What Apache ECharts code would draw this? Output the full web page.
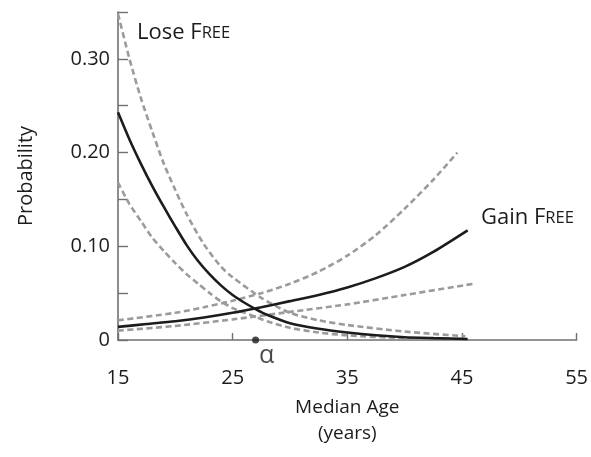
<!DOCTYPE html>
<html>
<head>
<meta charset="utf-8">
<script src="https://cdn.jsdelivr.net/npm/echarts@6/dist/echarts.min.js"></script>
<style>
  html, body { margin: 0; padding: 0; background: #ffffff; }
  #chart { width: 591px; height: 457px; }
</style>
</head>
<body>
<div id="chart"></div>
<script>
// Probability of losing / gaining the FREE state against median age (years)
// Solid curves are the estimates, dashed curves the bounds around them.

const xTicks = [15, 25, 35, 45, 55];
const yTicks = [0, 0.10, 0.20, 0.30];

// Lose FREE
const loseAges = [15, 16, 17, 18, 19, 20, 21, 22, 23, 24, 25, 26, 27, 28, 30, 32.5, 35, 37.5, 40, 42.5, 45.5];
const loseMid = [0.243, 0.214, 0.188, 0.164, 0.142, 0.121, 0.101, 0.084, 0.070, 0.058, 0.048, 0.040, 0.033, 0.027, 0.018, 0.012, 0.008, 0.005, 0.003, 0.002, 0.001];
const loseHighAges = [15, 16, 17, 18, 19, 20, 21, 22.5, 24, 25, 27.5, 30, 32.5, 35, 40, 45.3];
const loseHigh = [0.348, 0.300, 0.258, 0.222, 0.188, 0.160, 0.134, 0.102, 0.078, 0.067, 0.045, 0.029, 0.021, 0.016, 0.009, 0.004];
const loseLowAges = [15, 16, 17, 18, 19, 20, 21, 22, 23, 24, 25, 26.5, 28, 30, 32.5, 35, 40, 45];
const loseLow = [0.168, 0.145, 0.127, 0.109, 0.095, 0.082, 0.070, 0.060, 0.050, 0.041, 0.034, 0.027, 0.020, 0.013, 0.008, 0.005, 0.002, 0.001];

// Gain FREE
const gainAges = [15, 17.5, 20, 22.5, 25, 27.5, 30, 32.5, 35, 37.5, 40, 42.5, 45.5];
const gainMid = [0.014, 0.017, 0.020, 0.024, 0.029, 0.035, 0.0415, 0.048, 0.056, 0.066, 0.078, 0.094, 0.117];
const gainHighAges = [15, 20, 22.5, 25, 27.5, 30, 32.5, 35, 37.5, 40, 42.5, 44.6];
const gainHigh = [0.021, 0.029, 0.035, 0.042, 0.050, 0.060, 0.073, 0.090, 0.112, 0.140, 0.171, 0.200];
const gainLowAges = [15, 20, 25, 30, 35, 40, 46];
const gainLow = [0.010, 0.015, 0.022, 0.030, 0.038, 0.048, 0.060];

// Crossover age marked on the axis
const alphaAge = [27];

const FONT = '"Open Sans", "Noto Sans", sans-serif';
const AXIS_GRAY = '#707070';
const DASH_GRAY = '#9b9b9b';
const INK = '#1c1c1c';

const pairs = (xs, ys) => xs.map((x, i) => [x, ys[i]]);

function curve(name, xs, ys, dashed) {
  return {
    name: name,
    type: 'line',
    data: pairs(xs, ys),
    smooth: 0.25,
    symbol: 'none',
    silent: true,
    z: dashed ? 2 : 3,
    lineStyle: dashed
      ? { color: DASH_GRAY, width: 2.6, type: [6, 3.5], cap: 'butt' }
      : { color: INK, width: 2.6 }
  };
}

const chart = echarts.init(document.getElementById('chart'), null, { renderer: 'canvas' });

chart.setOption({
  animation: false,
  backgroundColor: '#ffffff',
  grid: { left: 118, right: 13, top: 12, bottom: 117 },
  xAxis: {
    type: 'value',
    min: xTicks[0],
    max: xTicks[xTicks.length - 1],
    interval: 10,
    name: 'Median Age\n(years)',
    nameLocation: 'middle',
    nameGap: 55,
    nameTextStyle: { fontFamily: FONT, fontSize: 19, color: INK, lineHeight: 26, verticalAlign: 'top' },
    axisLine: { show: true, onZero: false, lineStyle: { color: AXIS_GRAY, width: 1.6 } },
    axisTick: { show: true, inside: true, length: 7, lineStyle: { color: AXIS_GRAY, width: 1.4 } },
    axisLabel: { margin: 28, fontFamily: FONT, fontSize: 20, color: INK },
    splitLine: { show: false }
  },
  yAxis: {
    type: 'value',
    min: 0,
    max: 0.35,
    interval: 0.05,
    name: 'Probability',
    nameLocation: 'middle',
    nameGap: 82,
    nameTextStyle: { fontFamily: FONT, fontSize: 20, color: INK },
    axisLine: { show: true, lineStyle: { color: AXIS_GRAY, width: 1.6 } },
    axisTick: { show: true, inside: true, length: 10, lineStyle: { color: AXIS_GRAY, width: 1.4 } },
    axisLabel: {
      margin: 8,
      fontFamily: FONT,
      fontSize: 20,
      color: INK,
      formatter: function (v) {
        const hit = yTicks.find(t => Math.abs(t - v) < 1e-9);
        if (hit === undefined) return '';
        return hit === 0 ? '0' : hit.toFixed(2);
      }
    },
    splitLine: { show: false }
  },
  graphic: [
    {
      type: 'text',
      left: 137,
      top: 22,
      style: {
        text: '{a|Lose F}{b|REE}',
        rich: {
          a: { fontFamily: FONT, fontSize: 22, fill: INK },
          b: { fontFamily: FONT, fontSize: 16.5, fill: INK }
        }
      }
    },
    {
      type: 'text',
      left: 481,
      top: 207,
      style: {
        text: '{a|Gain F}{b|REE}',
        rich: {
          a: { fontFamily: FONT, fontSize: 22, fill: INK },
          b: { fontFamily: FONT, fontSize: 16.5, fill: INK }
        }
      }
    }
  ],
  series: [
    curve('Lose upper', loseHighAges, loseHigh, true),
    curve('Lose lower', loseLowAges, loseLow, true),
    curve('Gain upper', gainHighAges, gainHigh, true),
    curve('Gain lower', gainLowAges, gainLow, true),
    curve('Lose FREE', loseAges, loseMid, false),
    curve('Gain FREE', gainAges, gainMid, false),
    {
      name: 'alpha',
      type: 'scatter',
      data: alphaAge.map(a => [a, 0]),
      symbol: 'circle',
      symbolSize: 7,
      clip: false,
      silent: true,
      z: 5,
      itemStyle: { color: INK },
      label: {
        show: true,
        formatter: 'α',
        position: 'bottom',
        distance: 0,
        offset: [11, 0],
        fontFamily: FONT,
        fontSize: 25,
        color: INK
      }
    }
  ]
});
</script>
</body>
</html>
